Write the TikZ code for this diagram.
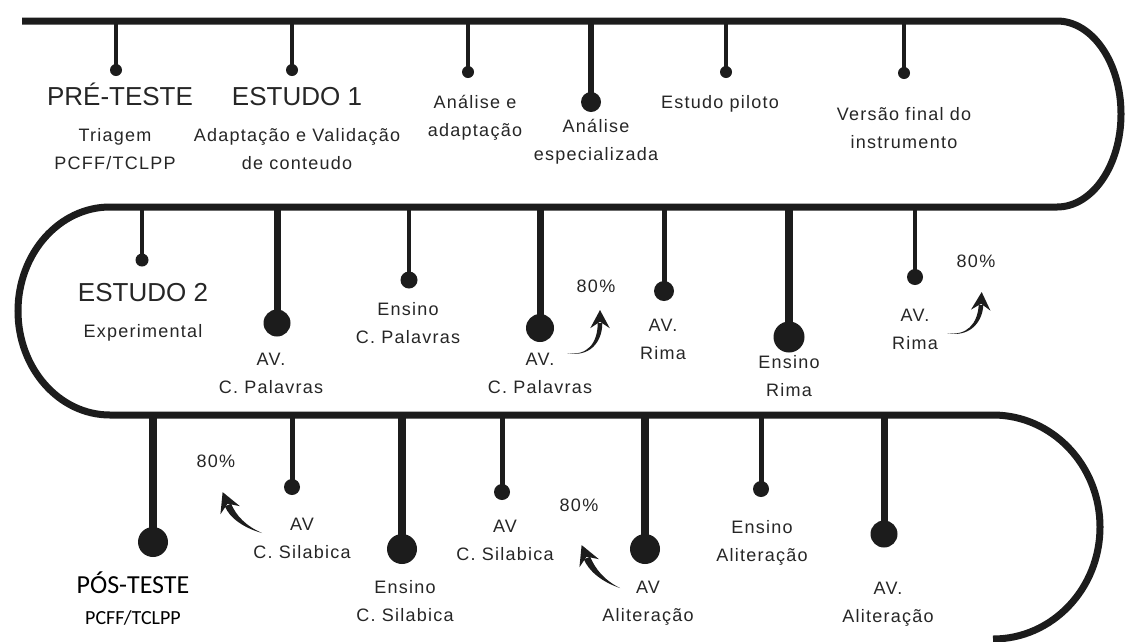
\documentclass[tikz,border=0pt]{standalone}
\usepackage{fontspec}
\setmainfont{Liberation Sans}
\newfontfamily\lbfont{Liberation Sans}[LetterSpace=7]
\newfontfamily\calfont{Carlito}
\usetikzlibrary{arrows.meta,calc}
\definecolor{ink}{HTML}{1C1C1C}
\definecolor{txt}{HTML}{262626}
\tikzset{
  track/.style={draw=ink, line width=7pt},
  dotn/.style={circle, fill=ink, inner sep=0pt},
  lbl/.style={text=txt, align=center, anchor=base, inner sep=0pt, font=\lbfont\fontsize{18}{28}\selectfont},
  ttl/.style={text=txt, anchor=base, inner sep=0pt, font=\fontsize{26}{30}\selectfont},
  calbig/.style={text=black, anchor=base, inner sep=0pt, font=\calfont\fontsize{26}{30}\selectfont},
  calsmall/.style={text=black, anchor=base, inner sep=0pt, font=\calfont\fontsize{20}{24}\selectfont},
  arrowfill/.style={fill=ink, draw=none}
}
\newcommand{\tlev}[6]{%
  \coordinate (#1t) at (#2,#3);
  \node[dotn, minimum size=#5pt] (#1) at (#2,#4) {};
  \draw[draw=ink, line width=#6pt] (#1t) -- (#1.center);
}
% tapered curved arrow: #1 start, #2 ctrl1, #3 ctrl2, #4 end (head base), #5 half width (pt), #6 head size (pt)
\newcommand{\tarrow}[6]{%
  \fill[arrowfill] (#1) .. controls ($(#2)!#5*0.4!-90:(#3)$) and ($(#3)!#5!-90:(#4)$) .. ($(#4)!#5!90:(#3)$)
     -- ($(#4)!#5!-90:(#3)$) .. controls ($(#3)!#5!90:(#4)$) and ($(#2)!#5*0.4!90:(#3)$) .. (#1) -- cycle;
  \fill[arrowfill] ($(#4)!-#6!(#3)$) -- ($(#4)!#6*0.85!62:(#3)$) -- ($(#4)!-#6*0.1!(#3)$) -- ($(#4)!#6*0.85!-62:(#3)$) -- cycle;
}
\begin{document}
\begin{tikzpicture}[x=1pt, y=-1pt]
\useasboundingbox (0,0) rectangle (1126,641);
\clip (0,0) rectangle (1126,641);
\fill[white] (0,0) rectangle (1126,641);

% track
\draw[track] (22,21) -- (1057,21)
  arc[start angle=-90, end angle=90, x radius=64, y radius=93]
  -- (110,207)
  arc[start angle=-90, end angle=-270, x radius=92, y radius=104]
  -- (993,415)
  arc[start angle=-90, end angle=90, x radius=107, y radius=112];

% events
\tlev{e1}{116}{21}{70}{12}{4.5}
\tlev{e2}{292}{21}{70}{12}{4.5}
\tlev{e3}{468}{21}{72}{12}{4.5}
\tlev{e4}{591}{21}{102}{20}{6}
\tlev{e5}{726}{21}{72}{12}{4.5}
\tlev{e6}{904}{21}{73}{12}{4.5}
\tlev{m1}{142}{207}{260}{13}{4}
\tlev{m2}{277}{207}{323}{27}{7}
\tlev{m3}{409}{207}{280}{17}{4.5}
\tlev{m4}{540}{207}{328}{28}{7}
\tlev{m5}{664}{207}{291}{20}{5}
\tlev{m6}{789}{207}{337}{31}{8}
\tlev{m7}{915}{207}{277}{16}{4.5}
\tlev{b1}{153}{415}{542}{30}{8}
\tlev{b2}{292}{415}{487}{16}{5}
\tlev{b3}{402}{415}{549}{30}{8}
\tlev{b4}{502}{415}{492}{16}{5}
\tlev{b5}{645}{415}{549}{30}{8}
\tlev{b6}{761}{415}{489}{16}{5}
\tlev{b7}{884}{415}{534}{27}{7}

% top row texts (multi-line nodes: base = last line)
\node[ttl] (t1) at (120,105) {PRÉ-TESTE};
\node[lbl] (t1s) at (115,169) {Triagem\\PCFF/TCLPP};
\node[ttl] (t2) at (297,105) {ESTUDO 1};
\node[lbl] (t2s) at (297,169) {Adaptação e Validação\\de conteudo};
\node[lbl] (t3) at (475,136) {Análise e\\adaptação};
\node[lbl] (t4) at (596,160) {Análise\\especializada};
\node[lbl] (t5) at (720,108) {Estudo piloto};
\node[lbl] (t6) at (904,148) {Versão final do\\instrumento};

% middle row texts
\node[ttl] (u1) at (143,301) {ESTUDO 2};
\node[lbl] (u1s) at (143,337) {Experimental};
\node[lbl] (u2) at (271,393) {AV.\\C. Palavras};
\node[lbl] (u3) at (408,343) {Ensino\\C. Palavras};
\node[lbl] (u4) at (540,393) {AV.\\C. Palavras};
\node[lbl] (p1) at (596,292) {80\%};
\node[lbl] (u5) at (663,359) {AV.\\Rima};
\node[lbl] (u6) at (789,396) {Ensino\\Rima};
\node[lbl] (u7) at (915,349) {AV.\\Rima};
\node[lbl] (p2) at (976,267) {80\%};

% bottom row texts
\node[calbig] (v1) at (133,593) {PÓS-TESTE};
\node[calsmall] (v1s) at (133,624) {PCFF/TCLPP};
\node[lbl] (p3) at (216,467) {80\%};
\node[lbl] (v2) at (302,558) {AV\\C. Silabica};
\node[lbl] (v3) at (405,621) {Ensino\\C. Silabica};
\node[lbl] (v4) at (505,560) {AV\\C. Silabica};
\node[lbl] (p4) at (579,511) {80\%};
\node[lbl] (v5) at (648,621) {AV\\Aliteração};
\node[lbl] (v6) at (762,561) {Ensino\\Aliteração};
\node[lbl] (v7) at (888,622) {AV.\\Aliteração};

% curved arrows
\coordinate (a1s) at (567,353); \coordinate (a1c) at (588,357); \coordinate (a1d) at (600,343); \coordinate (a1e) at (600,323);
\tarrow{a1s}{a1c}{a1d}{a1e}{2.3pt}{13pt}
\coordinate (a2s) at (947,333); \coordinate (a2c) at (967,337); \coordinate (a2d) at (980,324); \coordinate (a2e) at (981,305);
\tarrow{a2s}{a2c}{a2d}{a2e}{2.3pt}{13pt}
\coordinate (a3s) at (262,533); \coordinate (a3c) at (245,527); \coordinate (a3d) at (233,517); \coordinate (a3e) at (228,505);
\tarrow{a3s}{a3c}{a3d}{a3e}{3.4pt}{14pt}
\coordinate (a4s) at (620,588); \coordinate (a4c) at (603,581); \coordinate (a4d) at (592,570); \coordinate (a4e) at (587,558);
\tarrow{a4s}{a4c}{a4d}{a4e}{3.4pt}{14pt}
\end{tikzpicture}
\end{document}
